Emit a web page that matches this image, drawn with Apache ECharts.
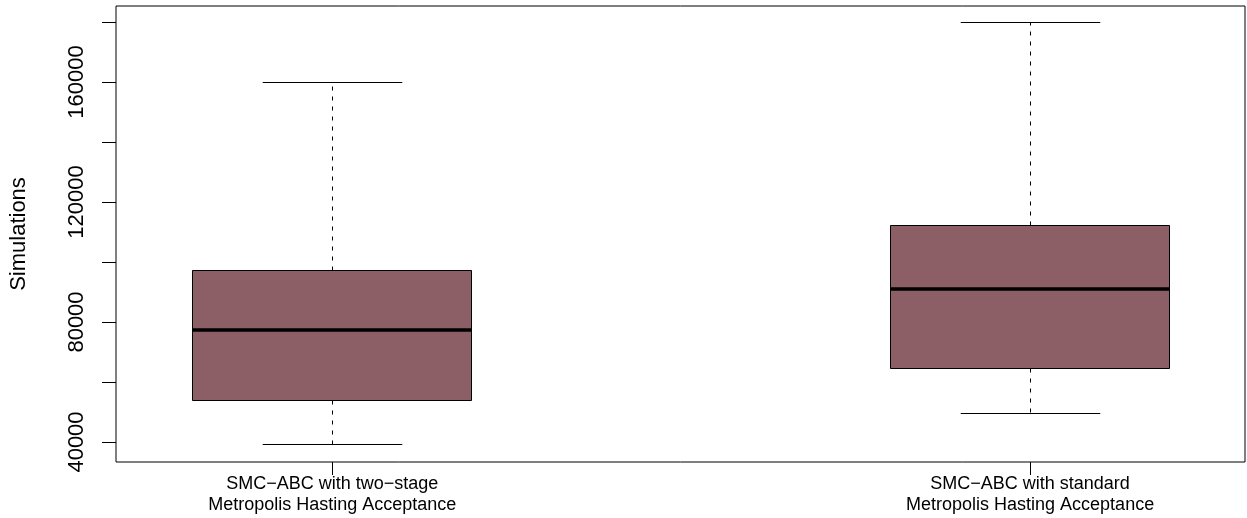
<!DOCTYPE html>
<html>
<head>
<meta charset="utf-8">
<script src="https://cdn.jsdelivr.net/npm/echarts@6/dist/echarts.min.js"></script>
<style>
  html, body { margin: 0; padding: 0; background: #fff; }
  #chart { width: 1247px; height: 518px; }
</style>
</head>
<body>
<div id="chart"></div>
<script>
// Groups and their five-number summaries (simulation counts)
const categories = [
  'SMC\u2212ABC with two\u2212stage\nMetropolis Hasting Acceptance',
  'SMC\u2212ABC with standard\nMetropolis Hasting Acceptance'
];
const lowerWhisker  = [39000, 49400];
const lowerQuartile = [53700, 64600];
const medians       = [77300, 91000];
const upperQuartile = [97300, 112100];
const upperWhisker  = [159700, 179700];

// Y axis tick marks and the subset that carries labels
const yTickValues  = [40000, 60000, 80000, 100000, 120000, 140000, 160000, 180000];
const yLabelValues = [40000, 80000, 120000, 160000];

const FONT = '"Liberation Sans", Arial, Helvetica, sans-serif';
const BOX_FILL = '#8B5F65';
const BOX_HALF = 0.2;   // half box width in x units
const CAP_HALF = 0.1;   // half whisker-cap width in x units

const seriesData = categories.map((c, i) => [
  i + 1, lowerWhisker[i], lowerQuartile[i], medians[i], upperQuartile[i], upperWhisker[i]
]);

const crisp = v => Math.round(v - 0.5) + 0.5;

function renderBox(params, api) {
  const x = api.value(0);
  const pLo  = api.coord([x, api.value(1)]);
  const pQ1  = api.coord([x, api.value(2)]);
  const pMed = api.coord([x, api.value(3)]);
  const pQ3  = api.coord([x, api.value(4)]);
  const pHi  = api.coord([x, api.value(5)]);
  const halfBox = api.size([BOX_HALF, 0])[0];
  const halfCap = api.size([CAP_HALF, 0])[0];
  const cx = crisp(pLo[0]);
  const yLo = crisp(pLo[1]), yQ1 = crisp(pQ1[1]), yQ3 = crisp(pQ3[1]), yHi = crisp(pHi[1]);
  const line = { stroke: '#000', lineWidth: 1 };
  const dashed = { stroke: '#000', lineWidth: 1, lineDash: [4, 6] };
  const bx = crisp(cx - halfBox);
  const bw = Math.round(2 * halfBox);
  return {
    type: 'group',
    children: [
      { type: 'line', shape: { x1: cx, y1: yQ3, x2: cx, y2: yHi }, style: dashed },
      { type: 'line', shape: { x1: cx, y1: yQ1, x2: cx, y2: yLo }, style: dashed },
      { type: 'line', shape: { x1: cx - halfCap, y1: yHi, x2: cx + halfCap, y2: yHi }, style: line },
      { type: 'line', shape: { x1: cx - halfCap, y1: yLo, x2: cx + halfCap, y2: yLo }, style: line },
      {
        type: 'rect',
        shape: { x: bx, y: yQ3, width: bw, height: yQ1 - yQ3 },
        style: { fill: BOX_FILL, stroke: '#000', lineWidth: 1 }
      },
      {
        type: 'line',
        shape: { x1: bx, y1: pMed[1], x2: bx + bw, y2: pMed[1] },
        style: { stroke: '#000', lineWidth: 3.5 }
      }
    ]
  };
}

const chart = echarts.init(document.getElementById('chart'), null, { renderer: 'canvas' });
chart.setOption({
  animation: false,
  backgroundColor: '#fff',
  grid: {
    left: 115, right: 2, top: 6, bottom: 56,
    show: true, borderColor: '#000', borderWidth: 1, backgroundColor: 'transparent'
  },
  xAxis: {
    type: 'value',
    min: 0.69,
    max: 2.308,
    splitLine: { show: false },
    axisLine: { show: false },
    axisTick: {
      show: true, length: 13, customValues: [1, 2],
      lineStyle: { color: '#000', width: 1 }
    },
    axisLabel: {
      customValues: [1, 2],
      formatter: v => categories[Math.round(v) - 1],
      color: '#000', fontFamily: FONT, fontSize: 18, lineHeight: 21, margin: 12
    }
  },
  yAxis: {
    type: 'value',
    min: 33333,
    max: 185333,
    name: 'Simulations',
    nameLocation: 'middle',
    nameRotate: 90,
    nameGap: 86,
    nameTextStyle: { color: '#000', fontFamily: FONT, fontSize: 22 },
    splitLine: { show: false },
    axisLine: { show: false },
    axisTick: {
      show: true, length: 14, customValues: yTickValues,
      lineStyle: { color: '#000', width: 1 }
    },
    axisLabel: {
      customValues: yLabelValues,
      formatter: v => String(Math.round(v)),
      rotate: 90,
      color: '#000', fontFamily: FONT, fontSize: 22, margin: 28
    }
  },
  series: [{
    type: 'custom',
    renderItem: renderBox,
    data: seriesData,
    encode: { x: 0, y: [1, 2, 3, 4, 5] },
    clip: false
  }]
});
</script>
</body>
</html>
